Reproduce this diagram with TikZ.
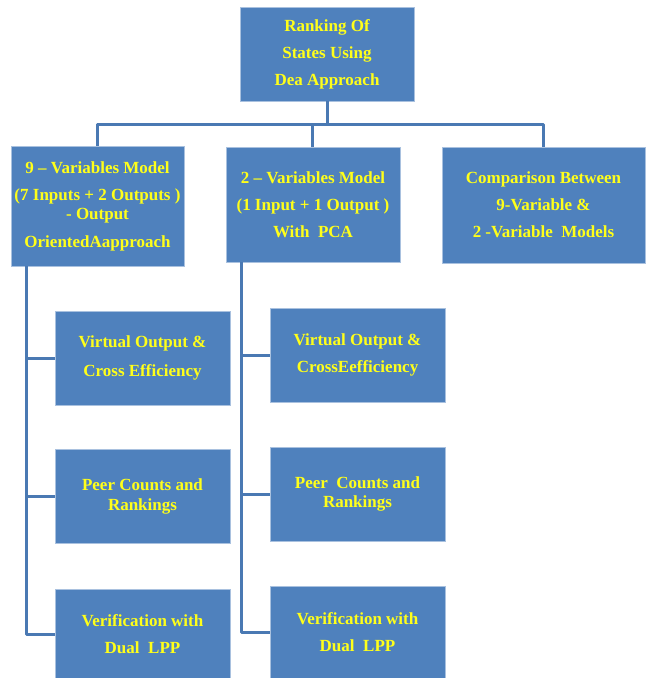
\documentclass[tikz,border=0pt]{standalone}
\usepackage{fontspec}
\setmainfont{Liberation Serif}
\definecolor{boxblue}{HTML}{4F81BD}
\definecolor{boxedge}{HTML}{A9C1DF}
\definecolor{linkblue}{HTML}{4A79B3}
\definecolor{txtyellow}{HTML}{FFFF1A}
\begin{document}
\begin{tikzpicture}[x=1pt,y=-1pt,
  blk/.style={draw=boxedge,line width=0.8pt,fill=boxblue,text=txtyellow,
    font=\fontsize{17}{27}\selectfont\bfseries,align=center,inner sep=0pt},
  conn/.style={draw=linkblue,line width=3pt,line join=round}]
\useasboundingbox (0,0) rectangle (653,678);
% level 0
\node[blk,minimum width=174pt,minimum height=94pt] (top) at (327,54) {Ranking Of\\States Using\\Dea Approach};
% level 1
\node[blk,minimum width=173pt,minimum height=120pt] (A) at (97.5,206)
  {9 -- Variables Model\\(7 Inputs + 2 Outputs )\\[-8pt]- Output\\[1pt]OrientedAapproach};
\node[blk,minimum width=174pt,minimum height=115pt] (B) at (313,204.5)
  {2 -- Variables Model\\(1 Input + 1 Output )\\With\ \ PCA};
\node[blk,minimum width=203pt,minimum height=116pt] (C) at (543.5,205)
  {Comparison Between\\9-Variable \&\\2 -Variable\ \ Models};
% level 2, left
\node[blk,minimum width=175pt,minimum height=94pt] (A1) at (142.5,358) {Virtual Output \&\\[2pt]Cross Efficiency};
\node[blk,minimum width=175pt,minimum height=94pt] (A2) at (142.5,496) {Peer Counts and\\[-7pt]Rankings};
\node[blk,minimum width=175pt,minimum height=90pt] (A3) at (142.5,634) {Verification with\\Dual\ \ LPP};
% level 2, middle
\node[blk,minimum width=175pt,minimum height=94pt] (B1) at (357.5,355) {Virtual Output \&\\CrossEefficiency};
\node[blk,minimum width=175pt,minimum height=94pt] (B2) at (357.5,494) {Peer\ \ Counts and\\[-8pt]Rankings};
\node[blk,minimum width=175pt,minimum height=92pt] (B3) at (357.5,632) {Verification with\\Dual\ \ LPP};
% connectors level 0 -> 1
\coordinate (bus) at (327,124);
\draw[conn] (top.south) -- (bus);
\draw[conn] (A.north) -- (A.north |- bus) -- (C.north |- bus) -- (C.north);
\draw[conn] ([xshift=-1pt]B.north) -- ([xshift=-1pt]B.north |- bus);
% spines
\coordinate (sa) at ([xshift=16pt]A.south west);
\coordinate (sb) at ([xshift=16pt]B.south west);
\draw[conn] (sa) |- (A3.west);
\draw[conn] (A1.west) -- (A1.west -| sa);
\draw[conn] (A2.west) -- (A2.west -| sa);
\draw[conn] (sb) |- (B3.west);
\draw[conn] (B1.west) -- (B1.west -| sb);
\draw[conn] (B2.west) -- (B2.west -| sb);
\end{tikzpicture}
\end{document}
